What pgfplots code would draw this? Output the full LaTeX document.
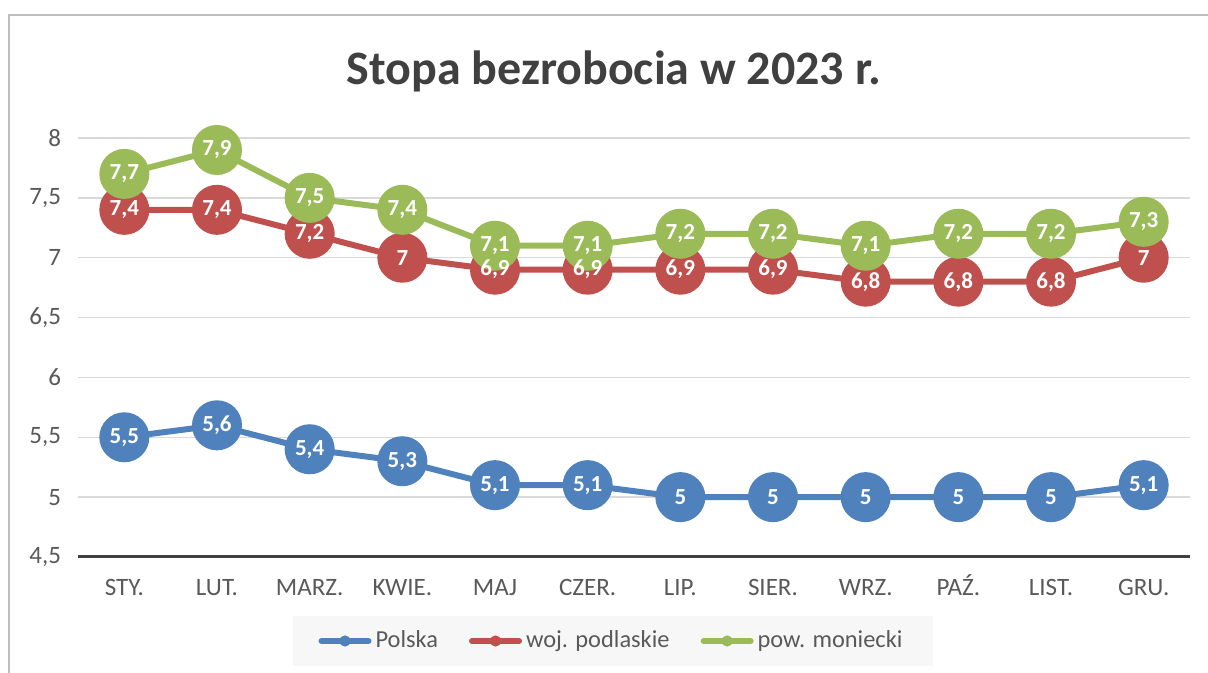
\documentclass[border=0pt]{standalone}
\usepackage{pgfplots}
\pgfplotsset{compat=1.18}
\usepackage{fontspec}
\setmainfont{Carlito}
\definecolor{cblue}{HTML}{4F81BD}
\definecolor{cred}{HTML}{C0504D}
\definecolor{cgreen}{HTML}{9BBB59}
\definecolor{ctext}{HTML}{595959}
\definecolor{ctitle}{HTML}{404040}
\definecolor{cgrid}{HTML}{D9D9D9}
\definecolor{cframe}{HTML}{BFBFBF}
\definecolor{clegbg}{HTML}{F7F7F7}
\begin{document}
\begin{tikzpicture}[x=1pt,y=1pt]
\path[use as bounding box] (0,0) rectangle (604,336.5);
\fill[white] (0,0) rectangle (604,336.5);
\draw[cframe, line width=1.2pt] (4.5,-5) -- (4.5,329) -- (610,329);
\node[anchor=base, font=\fontsize{24}{28}\selectfont\bfseries, text=ctitle] at (306.8,294) {Stopa bezrobocia w 2023 r.};
\begin{axis}[
  at={(39pt,58pt)}, anchor=south west,
  scale only axis, width=556pt, height=209.5pt,
  xmin=-0.5, xmax=11.5, ymin=4.5, ymax=8,
  clip=false,
  ytick={4.5,5,5.5,6,6.5,7,7.5,8},
  xtick={0,1,2,3,4,5,6,7,8,9,10,11},
  xticklabels={STY.,LUT.,MARZ.,KWIE.,MAJ,CZER.,LIP.,SIER.,WRZ.,PAŹ.,LIST.,GRU.},
  /pgf/number format/use comma,
  /pgf/number format/assume math mode=true,
  ymajorgrids, major grid style={cgrid, line width=0.75pt},
  axis x line*=bottom, axis y line*=left,
  x axis line style={-, ctitle, line width=1.5pt},
  y axis line style={draw=none},
  major tick length=0pt, tick style={draw=none},
  xticklabel style={font=\fontsize{12.5}{14}\selectfont, text=ctext, anchor=base, yshift=-19.5pt},
  yticklabel style={font=\fontsize{12.5}{14}\selectfont, text=ctext, xshift=-5pt},
  every node near coord/.append style={anchor=center, text=white, font=\fontsize{11.5}{13}\selectfont\bfseries},
  legend columns=3,
  legend image code/.code={\draw[line width=3pt, line cap=round] (1.5pt,0pt) -- (25pt,0pt); \fill[draw=none] (13.25pt,0pt) circle (2.8pt);},
  legend style={at={(0.4807,-0.2005)}, anchor=center, fill=clegbg, draw=none,
    font=\fontsize{12.2}{14}\selectfont, text=ctext, inner xsep=13pt, inner ysep=5.5pt,
    /tikz/every even column/.append style={column sep=13.5pt}},
]
\addplot[cblue, line width=3pt, mark=*, mark size=11pt, mark options={draw=none, fill=cblue}]
  coordinates {(0,5.5)(1,5.6)(2,5.4)(3,5.3)(4,5.1)(5,5.1)(6,5)(7,5)(8,5)(9,5)(10,5)(11,5.1)};
\addlegendentry{Polska}
\addplot[cred, line width=3pt, mark=*, mark size=11pt, mark options={draw=none, fill=cred}]
  coordinates {(0,7.4)(1,7.4)(2,7.2)(3,7)(4,6.9)(5,6.9)(6,6.9)(7,6.9)(8,6.8)(9,6.8)(10,6.8)(11,7)};
\addlegendentry{woj. podlaskie}
\addplot[cgreen, line width=3pt, mark=*, mark size=11pt, mark options={draw=none, fill=cgreen}]
  coordinates {(0,7.7)(1,7.9)(2,7.5)(3,7.4)(4,7.1)(5,7.1)(6,7.2)(7,7.2)(8,7.1)(9,7.2)(10,7.2)(11,7.3)};
\addlegendentry{pow. moniecki}
% data labels on top of all series
\addplot[draw=none, mark=none, nodes near coords, forget plot]
  coordinates {(0,5.5)(1,5.6)(2,5.4)(3,5.3)(4,5.1)(5,5.1)(6,5)(7,5)(8,5)(9,5)(10,5)(11,5.1)};
\addplot[draw=none, mark=none, nodes near coords, forget plot]
  coordinates {(0,7.4)(1,7.4)(2,7.2)(3,7)(4,6.9)(5,6.9)(6,6.9)(7,6.9)(8,6.8)(9,6.8)(10,6.8)(11,7)};
\addplot[draw=none, mark=none, nodes near coords, forget plot]
  coordinates {(0,7.7)(1,7.9)(2,7.5)(3,7.4)(4,7.1)(5,7.1)(6,7.2)(7,7.2)(8,7.1)(9,7.2)(10,7.2)(11,7.3)};
\end{axis}
\end{tikzpicture}
\end{document}
